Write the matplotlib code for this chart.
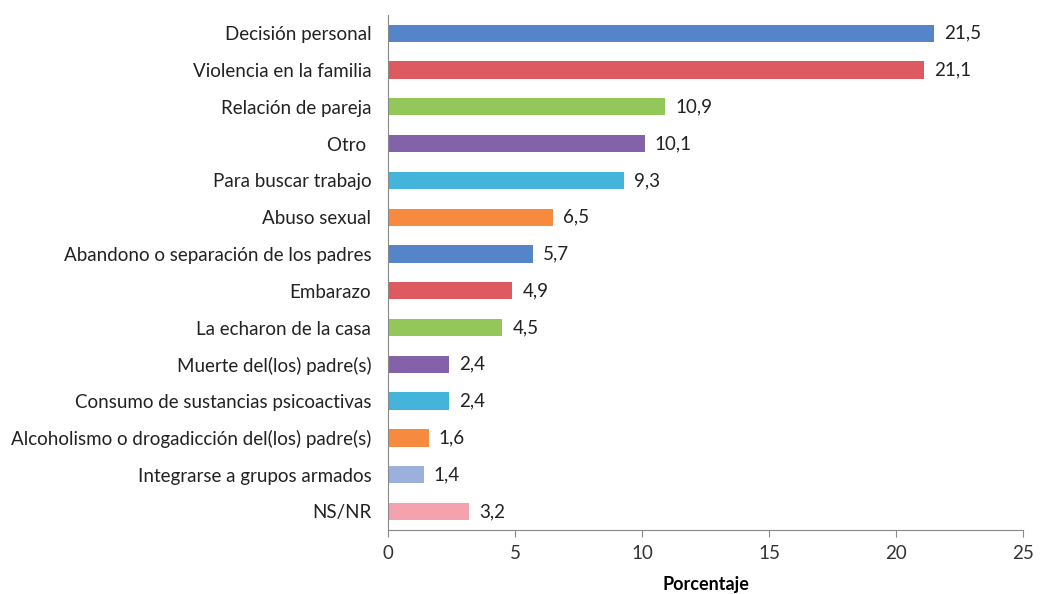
import matplotlib.pyplot as plt

# data (top to bottom)
categorias = ['Decisión personal', 'Violencia en la familia', 'Relación de pareja',
              'Otro ', 'Para buscar trabajo', 'Abuso sexual',
              'Abandono o separación de los padres', 'Embarazo',
              'La echaron de la casa', 'Muerte del(los) padre(s)',
              'Consumo de sustancias psicoactivas',
              'Alcoholismo o drogadicción del(los) padre(s)',
              'Integrarse a grupos armados', 'NS/NR']
porcentajes = [21.5, 21.1, 10.9, 10.1, 9.3, 6.5, 5.7, 4.9, 4.5, 2.4, 2.4, 1.6, 1.4, 3.2]
colores = ['#5585c8', '#dc5a60', '#94c75a', '#8462aa', '#44b4da', '#f68a3e',
           '#5585c8', '#dc5a60', '#94c75a', '#8462aa', '#44b4da', '#f68a3e',
           '#9cb0dc', '#f4a3ae']
ticks_x = [0, 5, 10, 15, 20, 25]

plt.rcParams['font.family'] = ['Lato', 'DejaVu Sans']

fig = plt.figure(figsize=(10.4, 5.94), dpi=100)
ax = fig.add_axes([0.373, 0.108, 0.611, 0.867])

y = list(range(len(categorias)))
ax.barh(y, porcentajes, height=0.47, color=colores, zorder=2)

for yi, v in zip(y, porcentajes):
    ax.text(v + 0.4, yi, f'{v:.1f}'.replace('.', ','), va='center', ha='left',
            fontsize=13.5, color='#222222')

ax.set_yticks(y)
ax.set_yticklabels(categorias, fontsize=13.5, color='#222222')
ax.set_ylim(len(categorias) - 0.5, -0.5)
ax.set_xlim(0, 25)
ax.set_xticks(ticks_x)
ax.tick_params(axis='x', labelsize=13.5, colors='#333333', length=5, color='#888888', pad=6)
ax.tick_params(axis='y', length=0, pad=12)
for lado in ['top', 'right']:
    ax.spines[lado].set_visible(False)
ax.spines['left'].set_color('#888888')
ax.spines['bottom'].set_color('#888888')
ax.set_xlabel('Porcentaje', fontsize=13, fontweight='bold', labelpad=10)

plt.savefig('out.png', dpi=100)
